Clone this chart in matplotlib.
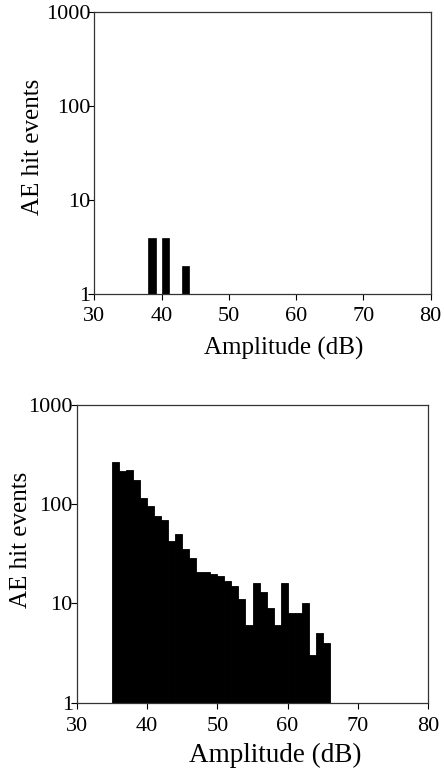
import numpy as np
import matplotlib.pyplot as plt
from matplotlib.ticker import FixedLocator, FixedFormatter

plt.rcParams['font.family'] = ['Liberation Serif', 'DejaVu Serif']

# Amplitude histograms (1 dB bins, left edge of each bin)
top_amp = [38, 40, 43]
top_hits = [4, 4, 2]

bottom_amp = list(range(35, 66))
bottom_hits = [268, 215, 219, 176, 115, 97, 76, 70, 43, 50, 35, 29, 21, 21, 20, 19,
               17, 15, 11, 6, 16, 13, 9, 6, 16, 8, 8, 10, 3, 5, 4]

x_ticks = [30, 40, 50, 60, 70, 80]
y_ticks = [1, 10, 100, 1000]
y_labels = ['1', '10', '100', '1000']

fig = plt.figure(figsize=(4.44, 7.70), dpi=100)
ax_top = fig.add_axes([0.2124, 0.618, 0.7576, 0.3664])
ax_bot = fig.add_axes([0.1734, 0.0874, 0.7906, 0.3866])


def style_axes(ax, xpad, xlabel_size, xlabel_pad):
    ax.set_yscale('log')
    ax.set_xlim(30, 80)
    ax.set_ylim(1, 1000)
    ax.xaxis.set_major_locator(FixedLocator(x_ticks))
    ax.yaxis.set_major_locator(FixedLocator(y_ticks))
    ax.yaxis.set_major_formatter(FixedFormatter(y_labels))
    ax.yaxis.set_minor_locator(FixedLocator([]))
    ax.tick_params(axis='both', direction='out', length=4, width=0.8,
                   labelsize=16, colors='black')
    ax.tick_params(axis='x', pad=xpad)
    ax.tick_params(axis='y', pad=-1)
    for s in ax.spines.values():
        s.set_linewidth(0.9)
        s.set_color('#333333')
    ax.set_xlabel('Amplitude (dB)', fontsize=xlabel_size, labelpad=xlabel_pad)
    ax.set_ylabel('AE hit events', fontsize=18)


ax_top.bar(top_amp, top_hits, width=1.1, align='edge', color='black',
           edgecolor='black', linewidth=0.5)
ax_bot.bar(bottom_amp, bottom_hits, width=1.0, align='edge', color='black',
           edgecolor='black', linewidth=0.6)

style_axes(ax_top, 5, 18, 8)
style_axes(ax_bot, 6, 19.5, 5)

ax_top.yaxis.labelpad = 1
ax_bot.yaxis.labelpad = -3
ax_top.yaxis.label.set_y(0.521)
ax_bot.yaxis.label.set_y(0.547)
ax_top.xaxis.label.set_x(0.562)
ax_bot.xaxis.label.set_x(0.565)

fig.savefig('out.png', dpi=100)
